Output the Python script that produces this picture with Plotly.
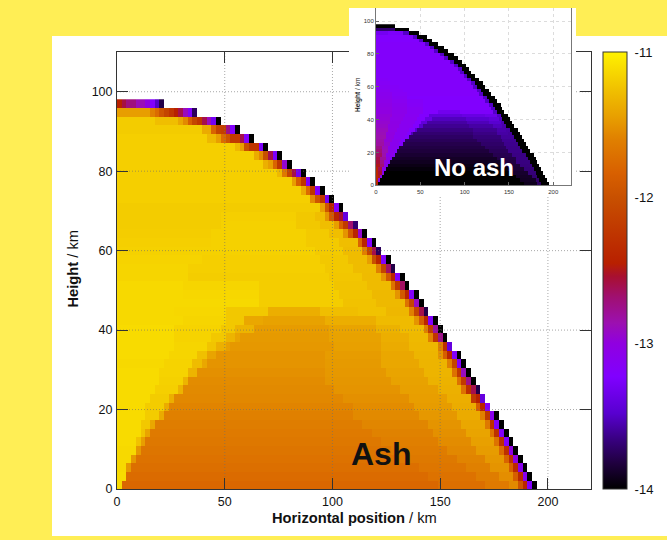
import plotly.graph_objects as go

W, H = 667, 540
CELL_KM_X = 2.19
CELL_KM_Y = 2.18
N_COLS = 92
FONT = "Liberation Sans"

X_TICKS = [0, 50, 100, 150, 200]
Y_TICKS = [0, 20, 40, 60, 80, 100]
CB_TICKS = [-11, -12, -13, -14]
CB_LABELS = ["-11", "-12", "-13", "-14"]
CB_INNER_TICK_PX = [197.7, 343.7]

# Colour key: (log value, colour)
COLOUR_KEY = [
    (-14.0, "#000000"), (-13.82, "#200040"), (-13.66, "#380080"), (-13.48, "#5800d0"),
    (-13.23, "#8000ff"), (-13.0, "#9000e0"), (-12.86, "#9c10b0"), (-12.68, "#a01070"),
    (-12.54, "#a81030"), (-12.45, "#b82000"), (-12.22, "#c03800"), (-12.0, "#c85000"),
    (-11.83, "#d86000"), (-11.6, "#e08000"), (-11.44, "#e8a000"), (-11.26, "#f0c000"),
    (-11.0, "#fff200"),
]

# Number of filled cells in each row, top row (y about 97 km) first
EDGE_COLS = [10, 17, 22, 26, 29, 32, 35, 37, 40, 42, 44, 46, 48, 49, 51, 53, 55, 56, 58, 59, 61, 62, 64,
             65, 66, 68, 69, 70, 71, 73, 74, 75, 76, 77, 78, 79, 81, 82, 83, 84, 85, 86, 87, 88, 89]

# Ash case: runs of (end column, value) for each row, then the cells at the outer rim
ASH_BODY = [
    [],
    [(7, -11.45)],
    [(8, -11.2), (13, -11.27), (14, -11.4)],
    [(18, -11.2), (20, -11.38)],
    [(19, -11.18), (21, -11.3)],
    [(25, -11.18), (26, -11.3)],
    [(29, -11.18)],
    [(31, -11.18)],
    [(34, -11.18)],
    [(37, -11.18)],
    [(39, -11.18)],
    [(41, -11.18)],
    [(43, -11.2)],
    [(22, -11.2), (38, -11.18), (42, -11.22), (44, -11.27)],
    [(22, -11.2), (38, -11.17), (43, -11.22), (46, -11.27)],
    [(20, -11.19), (40, -11.17), (45, -11.21), (48, -11.27)],
    [(20, -11.18), (40, -11.17), (47, -11.21), (51, -11.27)],
    [(18, -11.17), (42, -11.17), (48, -11.21), (52, -11.28)],
    [(18, -11.16), (43, -11.18), (49, -11.22), (53, -11.28)],
    [(15, -11.15), (44, -11.18), (50, -11.22), (55, -11.28)],
    [(15, -11.15), (45, -11.19), (52, -11.23), (56, -11.29)],
    [(14, -11.13), (30, -11.15), (46, -11.19), (53, -11.24), (58, -11.29)],
    [(14, -11.13), (30, -11.14), (47, -11.19), (54, -11.24), (59, -11.3)],
    [(30, -11.13), (48, -11.19), (55, -11.25), (61, -11.3)],
    [(12, -11.13), (23, -11.14), (32, -11.22), (43, -11.36), (51, -11.27), (57, -11.25), (62, -11.31)],
    [(14, -11.13), (23, -11.15), (27, -11.22), (31, -11.4), (44, -11.43), (55, -11.36), (63, -11.29)],
    [(12, -11.12), (22, -11.16), (25, -11.22), (29, -11.33), (45, -11.46), (55, -11.42), (60, -11.34), (65, -11.29)],
    [(12, -11.12), (20, -11.16), (23, -11.22), (25, -11.33), (26, -11.42), (45, -11.47), (56, -11.43), (62, -11.36), (66, -11.3)],
    [(12, -11.12), (19, -11.15), (21, -11.24), (23, -11.35), (24, -11.44), (46, -11.48), (56, -11.44), (62, -11.38), (68, -11.31)],
    [(11, -11.12), (17, -11.15), (19, -11.26), (21, -11.42), (44, -11.5), (56, -11.46), (63, -11.4), (68, -11.32)],
    [(10, -11.13), (16, -11.16), (18, -11.28), (19, -11.4), (44, -11.5), (56, -11.47), (64, -11.4), (70, -11.33)],
    [(9, -11.12), (15, -11.16), (17, -11.33), (44, -11.52), (57, -11.48), (65, -11.42), (71, -11.33)],
    [(9, -11.12), (14, -11.17), (15, -11.33), (44, -11.54), (58, -11.49), (66, -11.43), (72, -11.34)],
    [(8, -11.12), (13, -11.18), (14, -11.33), (46, -11.55), (60, -11.5), (68, -11.44), (73, -11.35)],
    [(7, -11.12), (11, -11.2), (12, -11.36), (48, -11.56), (62, -11.52), (70, -11.45), (75, -11.36)],
    [(6, -11.12), (10, -11.2), (11, -11.38), (50, -11.58), (63, -11.54), (71, -11.46), (76, -11.37)],
    [(6, -11.12), (9, -11.2), (10, -11.38), (50, -11.6), (64, -11.55), (72, -11.48), (77, -11.38)],
    [(5, -11.12), (7, -11.22), (8, -11.4), (52, -11.62), (66, -11.57), (73, -11.5), (78, -11.4)],
    [(5, -11.12), (6, -11.24), (7, -11.42), (54, -11.64), (67, -11.59), (74, -11.52), (79, -11.42)],
    [(4, -11.12), (5, -11.25), (6, -11.45), (56, -11.66), (68, -11.61), (75, -11.54), (80, -11.44)],
    [(4, -11.13), (5, -11.48), (58, -11.68), (70, -11.63), (76, -11.56), (81, -11.46)],
    [(3, -11.13), (4, -11.48), (60, -11.7), (72, -11.65), (78, -11.58), (82, -11.48)],
    [(2, -11.13), (3, -11.48), (64, -11.72), (74, -11.67), (79, -11.6), (83, -11.5)],
    [(2, -11.12), (66, -11.75), (76, -11.7), (81, -11.62), (84, -11.53)],
    [(1, -11.12), (68, -11.78), (78, -11.72), (83, -11.64), (85, -11.55)],
]
ASH_RIM = [
    [-12.45, -12.58, -12.72, -12.72, -12.88, -12.88, -13.0, -13.2, -13.5, -13.8],
    [-11.6, -11.75, -11.95, -12.1, -12.25, -12.45, -12.6, -12.9, -13.2, -13.75],
    [-11.55, -11.85, -12.1, -12.25, -12.6, -12.9, -13.3, -14],
    [-11.8, -12.1, -12.15, -12.75, -13.2, -14],
    [-11.45, -11.75, -11.95, -12.2, -12.2, -12.6, -13.2, -14],
    [-11.45, -12.0, -12.25, -12.25, -13.25, -14],
    [-11.38, -11.55, -12.0, -12.6, -13.25, -14],
    [-11.35, -11.45, -11.8, -12.25, -12.95, -14],
    [-11.3, -11.65, -12.1, -12.6, -13.3, -14],
    [-11.45, -11.85, -12.25, -13.25, -14],
    [-11.38, -11.75, -12.25, -13.2, -14],
    [-11.55, -11.95, -12.25, -13.3, -14],
    [-11.45, -11.95, -12.4, -13.2, -14],
    [-11.5, -11.9, -12.4, -12.55, -13.4],
    [-11.45, -11.85, -12.2, -12.68, -13.7],
    [-11.5, -11.9, -12.4, -12.95, -14],
    [-11.8, -12.4, -13.2, -14],
    [-11.6, -12.1, -12.6, -13.75],
    [-11.45, -12.0, -12.4, -13.2, -14],
    [-11.6, -12.1, -12.65, -13.8],
    [-11.5, -11.9, -12.4, -13.2, -14],
    [-11.7, -12.2, -12.65, -14],
    [-11.5, -11.9, -12.4, -13.2, -14],
    [-11.7, -12.1, -12.9, -14],
    [-11.6, -12.1, -12.6, -13.8],
    [-11.5, -11.85, -12.4, -13.2, -14],
    [-11.6, -12.2, -12.8, -14],
    [-11.6, -12.25, -12.75, -14],
    [-11.6, -12.3, -13.4],
    [-11.5, -11.85, -12.4, -13.2, -14],
    [-11.6, -12.1, -13.2, -14],
    [-11.7, -12.2, -12.9, -14],
    [-11.7, -12.2, -12.75, -14],
    [-11.7, -12.3, -12.6, -13.8],
    [-12.2, -12.45, -13.4],
    [-11.85, -12.4, -13.2],
    [-11.6, -12.2, -13.1, -14],
    [-11.65, -12.3, -13.2, -14],
    [-11.7, -12.3, -13.2, -14],
    [-11.7, -12.3, -13.2, -14],
    [-11.75, -12.3, -13.0, -14],
    [-11.8, -12.3, -13.0, -14],
    [-11.85, -12.35, -13.1, -14],
    [-11.85, -12.35, -13.1, -14],
    [-11.95, -12.4, -13.2, -14],
]

# No-ash case: runs of (end column, value), then the width of the black rim in cells
NO_ASH_BODY = [
    [],
    [(10, -13.7)],
    [(6, -13.3), (14, -13.25), (17, -13.5)],
    [(19, -13.22), (21, -13.5)],
    [(22, -13.22), (24, -13.5)],
    [(25, -13.2), (27, -13.5)],
    [(28, -13.2), (30, -13.5)],
    [(30, -13.2), (32, -13.5)],
    [(33, -13.2), (35, -13.5)],
    [(35, -13.2), (37, -13.5)],
    [(38, -13.2), (40, -13.5)],
    [(40, -13.2), (42, -13.5)],
    [(42, -13.2), (44, -13.5)],
    [(43, -13.2), (45, -13.5)],
    [(45, -13.2), (47, -13.5)],
    [(6, -13.18), (47, -13.2), (49, -13.5)],
    [(7, -13.16), (49, -13.2), (51, -13.5)],
    [(7, -13.14), (12, -13.18), (50, -13.2), (52, -13.5)],
    [(7, -13.12), (14, -13.17), (52, -13.2), (54, -13.5)],
    [(8, -13.1), (16, -13.16), (53, -13.2), (55, -13.5)],
    [(8, -13.08), (16, -13.14), (55, -13.22), (57, -13.5)],
    [(8, -13.06), (16, -13.12), (24, -13.18), (56, -13.22), (58, -13.5)],
    [(8, -13.04), (16, -13.1), (24, -13.17), (58, -13.22), (60, -13.5)],
    [(8, -13.02), (16, -13.08), (24, -13.15), (59, -13.22), (61, -13.5)],
    [(8, -13.0), (16, -13.07), (24, -13.14), (32, -13.22), (43, -13.32), (60, -13.25), (62, -13.5)],
    [(8, -12.98), (15, -13.06), (22, -13.13), (27, -13.22), (44, -13.42), (56, -13.38), (62, -13.34), (64, -13.5)],
    [(7, -12.97), (14, -13.05), (21, -13.12), (25, -13.22), (29, -13.38), (46, -13.52), (58, -13.47), (63, -13.42), (65, -13.52)],
    [(7, -12.95), (13, -13.04), (20, -13.12), (23, -13.22), (26, -13.42), (47, -13.58), (58, -13.53), (64, -13.48), (66, -13.55)],
    [(6, -12.93), (12, -13.03), (19, -13.12), (22, -13.22), (24, -13.48), (48, -13.62), (60, -13.58), (65, -13.52), (67, -13.56)],
    [(6, -12.9), (11, -13.02), (17, -13.12), (20, -13.22), (21, -13.48), (50, -13.66), (62, -13.62), (67, -13.56), (69, -13.58)],
    [(5, -12.88), (10, -13.0), (16, -13.12), (18, -13.22), (19, -13.52), (50, -13.7), (62, -13.65), (68, -13.58), (70, -13.6)],
    [(5, -12.86), (9, -13.0), (15, -13.12), (17, -13.22), (50, -13.73), (64, -13.68), (69, -13.6), (71, -13.6)],
    [(4, -12.84), (8, -12.98), (13, -13.1), (15, -13.22), (52, -13.76), (65, -13.7), (70, -13.62), (72, -13.62)],
    [(4, -12.82), (7, -12.95), (12, -13.1), (14, -13.22), (54, -13.79), (66, -13.72), (73, -13.63)],
    [(3, -12.75), (6, -12.9), (11, -13.08), (12, -13.22), (56, -13.81), (67, -13.74), (74, -13.64)],
    [(3, -12.7), (6, -12.88), (10, -13.08), (11, -13.22), (58, -13.83), (68, -13.76), (75, -13.64)],
    [(3, -12.65), (5, -12.85), (9, -13.08), (10, -13.22), (60, -13.86), (70, -13.78), (77, -13.65)],
    [(2, -12.6), (5, -12.8), (7, -13.02), (8, -13.25), (62, -13.89), (72, -13.8), (78, -13.65)],
    [(2, -12.55), (4, -12.75), (6, -13.02), (7, -13.25), (64, -13.91), (72, -13.82), (79, -13.66)],
    [(2, -12.5), (4, -12.7), (5, -13.02), (6, -13.25), (66, -13.94), (74, -13.84), (80, -13.67)],
    [(1, -12.4), (3, -12.6), (5, -13.1), (68, -13.97), (76, -13.85), (81, -13.68)],
    [(1, -12.38), (3, -12.55), (4, -13.1), (70, -14), (78, -13.87), (82, -13.68)],
    [(1, -12.36), (2, -12.5), (3, -13.1), (72, -14), (80, -13.89), (83, -13.7)],
    [(1, -12.4), (2, -13.1), (74, -14), (82, -13.9), (84, -13.72)],
    [(1, -12.4), (76, -14), (83, -13.92), (85, -13.74)],
]
NO_ASH_BLACK = [10, 7, 5, 5, 5, 5, 5, 5, 5, 5, 4, 4, 4, 4, 4, 4, 4, 4, 4, 4, 4, 4, 4,
                4, 4, 4, 4, 4, 4, 4, 4, 4, 4, 4, 4, 4, 4, 4, 4, 4, 4, 4, 4, 4, 4]


def build_rows(body_rows, rim_rows):
    rows = []
    for edge, body, rim in zip(EDGE_COLS, body_rows, rim_rows):
        cells = []
        stop = edge - len(rim)
        for end, value in body:
            cells += [value] * max(0, min(end, stop) - len(cells))
        if len(cells) < stop:
            cells += [cells[-1]] * (stop - len(cells))
        cells += list(rim)
        rows.append(cells + [None] * (N_COLS - len(cells)))
    return rows[::-1]


ash_z = build_rows(ASH_BODY, ASH_RIM)
no_ash_z = build_rows(NO_ASH_BODY, [[-14] * n for n in NO_ASH_BLACK])


def fx(px):
    return px / W


def fy(px):
    return 1 - px / H


colorscale = [[(v + 14) / 3, c] for v, c in COLOUR_KEY]
fig = go.Figure()

heat = dict(x0=CELL_KM_X / 2, dx=CELL_KM_X, y0=CELL_KM_Y / 2, dy=CELL_KM_Y, coloraxis="coloraxis",
            hoverongaps=False)
fig.add_trace(go.Heatmap(z=ash_z, xaxis="x", yaxis="y", **heat))

# Dotted grid over the main map
grid_x, grid_y = [], []
for v in X_TICKS[1:]:
    grid_x += [v, v, None]
    grid_y += [0, 110, None]
for v in Y_TICKS[1:]:
    grid_x += [0, 220, None]
    grid_y += [v, v, None]
fig.add_trace(go.Scatter(x=grid_x, y=grid_y, mode="lines", xaxis="x", yaxis="y", showlegend=False,
                         line=dict(color="rgba(110,110,110,0.6)", width=1, dash="1px,2px")))

# White box that holds the inset, painted over the main plot
fig.add_trace(go.Scatter(x=[None], y=[None], xaxis="x2", yaxis="y2", showlegend=False))
fig.add_trace(go.Heatmap(z=no_ash_z, xaxis="x3", yaxis="y3", **heat))

main_ax = dict(showgrid=False, zeroline=False, ticks="inside", ticklen=11, tickwidth=1, tickcolor="#333",
               showline=True, linecolor="#333", linewidth=1, mirror="ticks",
               tickfont=dict(family=FONT, size=12.5, color="#111"), ticklabelstandoff=1)
inset_ax = dict(showgrid=True, gridcolor="#dcdcdc", griddash="dot", zeroline=False, ticks="inside", ticklen=3,
                tickwidth=1, tickcolor="#666", showline=True, linecolor="#777", linewidth=1,
                tickfont=dict(family=FONT, size=6, color="#333"))

shapes = [
    dict(type="rect", xref="paper", yref="paper", x0=fx(52), x1=1, y0=fy(536), y1=fy(36),
         fillcolor="#ffffff", line_width=0, layer="below"),
]
for py in CB_INNER_TICK_PX:
    for x0, x1 in ((603, 613), (616, 627)):
        shapes.append(dict(type="line", xref="paper", yref="paper", x0=fx(x0), x1=fx(x1), y0=fy(py), y1=fy(py),
                           line=dict(color="rgba(60,25,0,0.8)", width=1), layer="above"))

fig.update_layout(
    width=W, height=H, margin=dict(l=0, r=0, t=0, b=0, pad=0, autoexpand=False), autosize=False,
    paper_bgcolor="#ffee55", plot_bgcolor="#ffffff", showlegend=False,
    font=dict(family=FONT),
    xaxis=dict(domain=[fx(117), fx(591)], range=[0, 220], tickvals=X_TICKS, anchor="y", **main_ax),
    yaxis=dict(domain=[fy(489), fy(52)], range=[0, 110], tickvals=Y_TICKS, anchor="x", **main_ax),
    xaxis2=dict(domain=[fx(349), fx(576)], range=[0, 1], visible=False, anchor="y2"),
    yaxis2=dict(domain=[fy(196), fy(8)], range=[0, 1], visible=False, anchor="x2"),
    xaxis3=dict(domain=[fx(376), fx(571)], range=[0, 220], tickvals=X_TICKS, anchor="y3", mirror=False, **inset_ax),
    yaxis3=dict(domain=[fy(185.3), fy(8)], range=[0, 108], tickvals=Y_TICKS, anchor="x3", mirror=True, **inset_ax),
    coloraxis=dict(
        cmin=-14, cmax=-11, colorscale=colorscale,
        colorbar=dict(
            x=fx(603), xanchor="left", xpad=0, y=fy(489), yanchor="bottom", ypad=0,
            thickness=24, thicknessmode="pixels", len=437, lenmode="pixels",
            tickmode="array", tickvals=CB_TICKS, ticktext=CB_LABELS, ticks="outside", ticklen=5,
            tickcolor="rgba(0,0,0,0)", tickwidth=1,
            tickfont=dict(family=FONT, size=13, color="#111"),
            outlinecolor="#333", outlinewidth=1, borderwidth=0,
        ),
    ),
    shapes=shapes,
    annotations=[
        dict(text="<b>Horizontal position</b> / km", x=fx(354.5), y=fy(518), xref="paper", yref="paper",
             showarrow=False, xanchor="center", yanchor="middle", font=dict(family=FONT, size=14.7, color="#111")),
        dict(text="<b>Height</b> / km", x=fx(72.5), y=fy(269), xref="paper", yref="paper", textangle=-90,
             showarrow=False, xanchor="center", yanchor="middle", font=dict(family=FONT, size=14.7, color="#111")),
        dict(text="<b>Height</b> / km", x=fx(358), y=fy(95), xref="paper", yref="paper", textangle=-90,
             showarrow=False, xanchor="center", yanchor="middle", font=dict(family=FONT, size=6.5, color="#222")),
        dict(text="<b>Ash</b>", x=fx(380.5), y=fy(453.5), xref="paper", yref="paper",
             showarrow=False, xanchor="center", yanchor="middle", font=dict(family=FONT, size=32, color="#111")),
        dict(text="<b>No ash</b>", x=fx(473.5), y=fy(167), xref="paper", yref="paper",
             showarrow=False, xanchor="center", yanchor="middle", font=dict(family=FONT, size=24, color="#ffffff")),
    ],
)

fig.write_html("out.html", config=dict(displayModeBar=False),
               post_script="document.body.style.margin='0';document.body.style.overflow='hidden';")
